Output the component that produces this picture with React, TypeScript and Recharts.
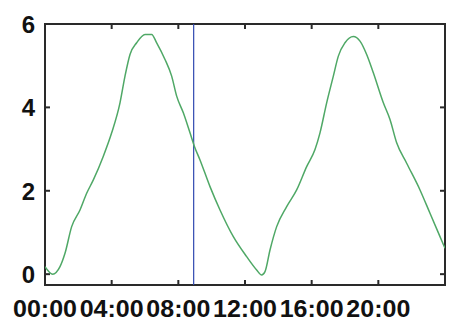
import React from 'react';
import { LineChart, Line, XAxis, YAxis, ReferenceLine, ReferenceArea } from 'recharts';

const hours = [0, 0.46, 0.9, 1.2, 1.6, 2.1, 2.5, 2.9, 3.5, 4.0, 4.5, 4.8, 5.1, 5.5, 6.0, 6.4, 6.7, 7.2, 7.6, 7.9, 8.3, 8.7, 8.96, 9.3, 9.9, 10.5, 11.3, 12.1, 12.7, 13.0, 13.2, 13.5, 13.9, 14.5, 15.1, 15.7, 16.2, 16.5, 16.9, 17.3, 17.6, 18.0, 18.5, 18.9, 19.3, 19.7, 20.3, 20.7, 21.1, 21.7, 22.5, 23.1, 23.7, 24.0];
const values = [0.18, 0.0, 0.18, 0.5, 1.14, 1.54, 1.94, 2.26, 2.83, 3.39, 4.11, 4.75, 5.27, 5.55, 5.75, 5.75, 5.55, 5.15, 4.75, 4.27, 3.87, 3.39, 3.07, 2.74, 2.1, 1.54, 0.9, 0.42, 0.1, -0.02, 0.06, 0.58, 1.14, 1.62, 2.02, 2.58, 2.99, 3.39, 4.11, 4.75, 5.23, 5.55, 5.7, 5.59, 5.27, 4.83, 4.11, 3.71, 3.15, 2.66, 2.02, 1.46, 0.9, 0.62];
const xTicks = [0, 4, 8, 12, 16, 20];
const xTickLabels = ['00:00', '04:00', '08:00', '12:00', '16:00', '20:00'];
const yTicks = [0, 2, 4, 6];
const cursorHour = 8.92;
const xDomain: [number, number] = [0, 24];
const yDomain: [number, number] = [-0.26, 6];
const xTickLen = 0.3;
const yTickLen = 0.12;

const data = hours.map((h, i) => ({ h, v: values[i] }));

const FONT = '"Liberation Sans", Arial, sans-serif';
const frame = '#2a2a2a';

const XTick = (props: any) => {
  const { x, y, payload } = props;
  const label = xTickLabels[xTicks.indexOf(payload.value)] ?? '';
  return (
    <text
      x={x}
      y={y}
      dy={17}
      textAnchor="middle"
      fontSize={23}
      fontFamily={FONT}
      fontWeight="bold"
      fill="#111"
      textLength={64}
      lengthAdjust="spacingAndGlyphs"
    >
      {label}
    </text>
  );
};

const YTick = (props: any) => {
  const { x, y, payload } = props;
  return (
    <text x={x} y={y} dy={9} textAnchor="end" fontSize={24} fontFamily={FONT} fontWeight="bold" fill="#111">
      {String(payload.value)}
    </text>
  );
};

export default function App() {
  const [y0, y1] = yDomain;
  const [x0, x1] = xDomain;
  return (
    <div style={{ position: 'absolute', left: 0, top: 0, background: '#fff' }}>
      <LineChart width={449} height={328} data={data} margin={{ top: 24, right: 4, bottom: 0, left: 0 }}>
        <XAxis
          dataKey="h"
          type="number"
          domain={xDomain}
          ticks={xTicks}
          allowDataOverflow
          height={43}
          tickSize={0}
          tickMargin={15}
          interval={0}
          axisLine={false}
          tickLine={false}
          tick={<XTick />}
        />
        <YAxis
          type="number"
          domain={yDomain}
          ticks={yTicks}
          allowDataOverflow
          width={45}
          tickSize={0}
          tickMargin={10}
          interval={0}
          axisLine={false}
          tickLine={false}
          tick={<YTick />}
        />
        <ReferenceArea
          x1={x0}
          x2={x1}
          y1={y0}
          y2={y1}
          fill="transparent"
          fillOpacity={0}
          stroke={frame}
          strokeWidth={2}
          ifOverflow="visible"
        />
        {xTicks.map((t) => (
          <ReferenceLine
            key={`xb${t}`}
            segment={[{ x: t, y: y0 }, { x: t, y: y0 + yTickLen }]}
            stroke={frame}
            strokeWidth={2}
            ifOverflow="visible"
          />
        ))}
        {xTicks.map((t) => (
          <ReferenceLine
            key={`xt${t}`}
            segment={[{ x: t, y: y1 }, { x: t, y: y1 - yTickLen }]}
            stroke={frame}
            strokeWidth={2}
            ifOverflow="visible"
          />
        ))}
        {yTicks.map((t) => (
          <ReferenceLine
            key={`yl${t}`}
            segment={[{ x: x0, y: t }, { x: x0 + xTickLen, y: t }]}
            stroke={frame}
            strokeWidth={2}
            ifOverflow="visible"
          />
        ))}
        {yTicks.map((t) => (
          <ReferenceLine
            key={`yr${t}`}
            segment={[{ x: x1, y: t }, { x: x1 - xTickLen, y: t }]}
            stroke={frame}
            strokeWidth={2}
            ifOverflow="visible"
          />
        ))}
        <ReferenceLine x={cursorHour} stroke="#3048b0" strokeWidth={1.2} />
        <Line
          type="monotone"
          dataKey="v"
          stroke="#4fa866"
          strokeWidth={1.5}
          dot={false}
          isAnimationActive={false}
        />
      </LineChart>
    </div>
  );
}
